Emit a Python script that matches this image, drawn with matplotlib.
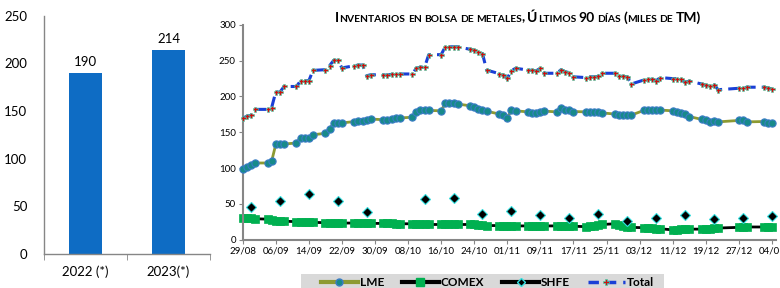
import numpy as np
import pandas as pd
import matplotlib
matplotlib.use("Agg")
import matplotlib.pyplot as plt
import matplotlib.dates as mdates
from matplotlib.lines import Line2D
from matplotlib.patches import Rectangle

plt.rcParams['font.family'] = ['Lato', 'DejaVu Sans']

# ---- data: annual bars ----
years = ['2022 (*)', '2023(*)']
year_vals = [190, 214]

# ---- data: daily inventories (thousand t), LME trading days ----
holidays = ['2023-12-25', '2023-12-26', '2024-01-01']
lme = [98, 102, 104.5, 107,
       107, 109.5, 133, 133.5, 133.5,
       135, 142.5, 142.5, 142.5, 146.5,
       148.5, 155, 162.5, 162.5, 163,
       165, 165.5, 166, 166.5, 168.5,
       167.5, 167.5, 169, 169.5, 170,
       171, 179, 180.5, 180.5, 180.5,
       180, 190.5, 191, 190.5, 189.5,
       187, 185, 183, 180.5, 179.5,
       175.5, 174, 170.5, 180.5, 180,
       178.5, 177.5, 176.5, 178.5, 179.5,
       178.5, 184.5, 181.5, 180.5, 179,
       178.5, 178.5, 178, 178, 177,
       175.5, 174.5, 174, 174, 174,
       180.5, 181.5, 181.5, 181.5, 181,
       180, 179, 177.5, 175, 172,
       168, 166.5, 165, 166, 164.5,
       166.5, 166.5, 164.5,
       165, 163.5, 162.5]
comex = [30, 30, 29.5, 29,
         28.5, 27.5, 26.5, 26, 25.5,
         25, 24.5, 24.5, 24, 24,
         23.5, 23.5, 23.5, 23, 23,
         23, 23, 23, 22.5, 22.5,
         22.5, 22.5, 22.5, 22, 22,
         22, 21.5, 21.5, 21.5, 21,
         21, 21, 21, 21, 21,
         21, 21, 20.5, 20, 19.5,
         19.5, 19.5, 19, 19, 19,
         19, 19, 19, 19, 19,
         19, 19, 19, 18.5, 18.5,
         18, 19, 19.5, 20, 21,
         22, 20, 19, 18, 17,
         16.5, 16, 15.5, 15, 15,
         13.5, 13.5, 14, 14, 14.5,
         14.5, 15, 15, 15.5, 16,
         17, 17, 17.5,
         17.5, 17.5, 17.5]
total = [169.5, 172.5, 173.5, 182,
         182, 184.5, 206.5, 206, 214,
         214, 222, 222, 222, 236.5,
         237.5, 243, 250.5, 250.5, 240,
         243, 244, 244, 229, 230.5,
         230, 230, 231, 231.5, 231.5,
         231.5, 239.5, 241, 241, 258.5,
         258.5, 269.5, 269.5, 269.5, 269.5,
         266, 264.5, 262.5, 260, 237,
         232, 230, 225.5, 236, 239.5,
         237, 236.5, 236, 239.5, 232.5,
         232.5, 237.5, 234.5, 233.5, 227.5,
         226.5, 227.5, 227.5, 228, 232.5,
         232.5, 229, 228, 227.5, 217.5,
         223, 224, 224, 222, 226.5,
         225, 225, 224, 220, 221.5,
         217.5, 215.5, 215, 216.5, 209.5,
         211.5, 212, 213,
         213, 212, 210.5]

# weekly SHFE
shfe_dates = ['2023-08-31', '2023-09-07', '2023-09-14', '2023-09-21', '2023-09-28',
              '2023-10-12', '2023-10-19', '2023-10-26', '2023-11-02', '2023-11-09',
              '2023-11-16', '2023-11-23', '2023-11-30', '2023-12-07', '2023-12-14',
              '2023-12-21', '2023-12-28', '2024-01-04']
shfe = [45.7, 53.6, 63.8, 53.6, 38.3,
        56, 57.4, 35.5, 39.7, 34.1,
        30.4, 35.5, 25.8, 29.5, 34.1,
        28.1, 29.5, 32.7]

dates = pd.bdate_range('2023-08-29', '2024-01-04').drop(pd.to_datetime(holidays))
shfe_s = pd.Series(shfe, index=pd.to_datetime(shfe_dates)).reindex(dates)

W, H = 780, 288
fig = plt.figure(figsize=(W / 100, H / 100), dpi=100)
grey = '#868686'

# ---------- left: bar chart ----------
ax1 = fig.add_axes([44 / W, 1 - 254 / H, 166 / W, (254 - 15.7) / H])
x = np.arange(len(years))
bars = ax1.bar(x, year_vals, width=0.4, color='#0E6CC4')
for b, v in zip(bars, year_vals):
    ax1.text(b.get_x() + b.get_width() / 2, v + 5, str(v), ha='center', va='bottom', fontsize=9.5)
ax1.set_xlim(-0.5, 1.5)
ax1.set_ylim(0, 250)
ax1.set_yticks(range(0, 251, 50))
ax1.set_xticks(x)
ax1.set_xticklabels(years)
ax1.set_xticks([-0.5, 0.5, 1.5], minor=True)
ax1.tick_params(axis='x', which='major', length=0, labelsize=9.5, pad=8)
ax1.tick_params(axis='x', which='minor', length=4, color=grey)
ax1.tick_params(axis='y', length=0, labelsize=9.5, pad=12)
for s in ['top', 'right']:
    ax1.spines[s].set_visible(False)
for s in ['left', 'bottom']:
    ax1.spines[s].set_color(grey)
    ax1.spines[s].set_linewidth(1.0)

# ---------- right: daily inventories ----------
ax2 = fig.add_axes([242.7 / W, 1 - 239.5 / H, (776 - 242.7) / W, (239.5 - 25) / H])
ax2.plot(dates, lme, color='#8C9A32', lw=2, marker='o', ms=5.2,
         mfc='#178A8A', mec='#3A7CC6', mew=0.8, clip_on=False, zorder=3)
ax2.plot(dates, comex, color='black', lw=2, marker='s', ms=5.5,
         mfc='#00B050', mec='#00B050', mew=0.5, clip_on=False, zorder=2)
ax2.plot(dates, shfe_s.values, color='black', lw=2, marker='D', ms=5,
         mfc='black', mec='#33E0E0', mew=0.8, clip_on=False, zorder=4)
ax2.plot(dates, total, color='#1A3FD6', lw=2.2, ls=(0, (3.5, 2)), marker='P', ms=3.6,
         mfc='#D01010', mec='#3FD9B0', mew=0.4, clip_on=False, zorder=5)

ax2.set_ylim(0, 300)
ax2.set_yticks(range(0, 301, 50))
ax2.set_xlim(pd.Timestamp('2023-08-29'), pd.Timestamp('2024-01-05'))
ax2.set_xticks(pd.date_range('2023-08-29', periods=17, freq='8D'))
ax2.xaxis.set_major_formatter(mdates.DateFormatter('%d/%m'))
ax2.tick_params(axis='both', labelsize=7, length=3, color=grey, pad=2)
for s in ['top', 'right']:
    ax2.spines[s].set_visible(False)
for s in ['left', 'bottom']:
    ax2.spines[s].set_color(grey)
    ax2.spines[s].set_linewidth(1.5)

# legend on a grey band (cut by the figure bottom, as in the source)
fig.patches.append(Rectangle((301 / W, 0), 363 / W, 14 / H, transform=fig.transFigure,
                             facecolor='#D9D9D9', edgecolor='none', zorder=0))
handles = [
    Line2D([], [], color='#8C9A32', lw=3, marker='o', ms=5, mfc='#178A8A', mec='#3A7CC6'),
    Line2D([], [], color='black', lw=3, marker='s', ms=5.5, mfc='#00B050', mec='#00B050'),
    Line2D([], [], color='black', lw=3, marker='D', ms=4, mfc='black', mec='#33E0E0'),
    Line2D([], [], color='#1A3FD6', lw=2.5, ls=(0, (3, 2)), marker='P', ms=4.5,
           mfc='#D01010', mec='#3FD9B0', mew=0.5),
]
fig.legend(handles, ['LME', 'COMEX', 'SHFE', 'Total'], ncol=4,
           loc='center left', bbox_to_anchor=(321 / W, 1 - 283 / H),
           bbox_transform=fig.transFigure, frameon=False,
           prop={'weight': 'bold', 'size': 8.5}, handlelength=3.1,
           handletextpad=0.2, columnspacing=1.5, borderpad=0, borderaxespad=0)


# small caps title
def smallcaps(fig, xc, y, text, big=9, small=6.6):
    r = fig.canvas.get_renderer()
    fw = fig.bbox.width

    def width(s, size):
        t = fig.text(0, 0, s, fontsize=size, fontweight='bold')
        w = t.get_window_extent(r).width
        t.remove()
        return w

    gap = width('I I', small) - width('II', small)
    pieces = []
    pos = 0
    for k, word in enumerate(text.split(' ')):
        if k:
            pos += gap
        run, low = '', None
        for ch in word + '\0':
            is_low = ch.islower()
            if ch == '\0' or (low is not None and is_low != low):
                if run:
                    size = small if low else big
                    s = run.upper() if low else run
                    pieces.append((s, size, pos))
                    pos += width(s, size)
                run = ''
            if ch != '\0':
                run += ch
                low = is_low
    for s, size, dx in pieces:
        fig.text((xc * fw - pos / 2 + dx) / fw, y, s, fontsize=size,
                 fontweight='bold', va='baseline')


smallcaps(fig, 518 / W, 1 - 21.5 / H,
          'Inventarios en bolsa de metales, Últimos 90 días (miles de TM)',
          big=10, small=7.4)

fig.savefig('out.png', dpi=100)
